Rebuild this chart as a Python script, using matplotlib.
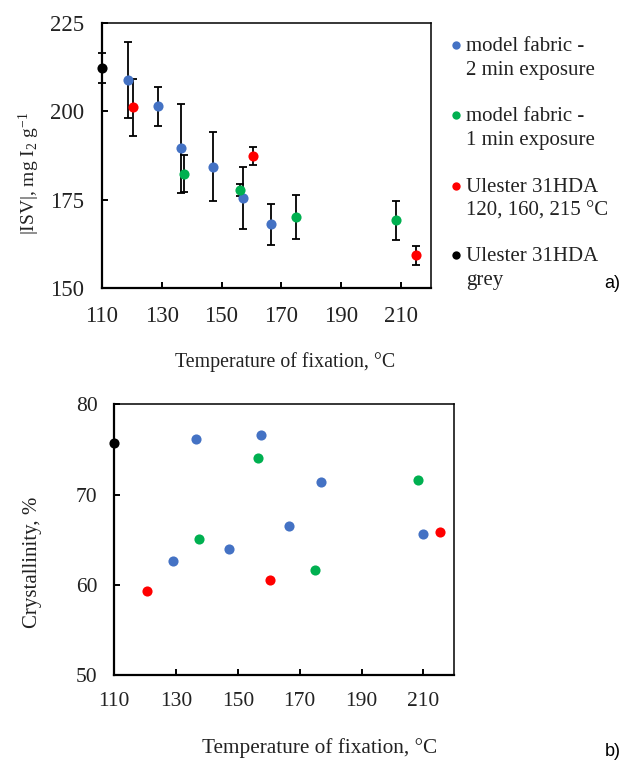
import matplotlib
matplotlib.use("Agg")
import matplotlib.pyplot as plt
from matplotlib.lines import Line2D

plt.rcParams['font.family'] = ['Liberation Serif', 'DejaVu Serif']
plt.rcParams['mathtext.fontset'] = 'custom'
plt.rcParams['mathtext.rm'] = 'Liberation Serif'
plt.rcParams['mathtext.it'] = 'Liberation Serif:italic'

# a) iodine sorption value vs fixation temperature
isv_blue_x = [118.6, 128.8, 136.4, 147.2, 157.3, 166.5]
isv_blue_y = [208.9, 201.4, 189.5, 184.3, 175.5, 168.0]
isv_blue_err = [10.7, 5.5, 12.5, 9.8, 8.8, 5.7]
isv_green_x = [137.3, 156.3, 175.0, 208.4]
isv_green_y = [182.4, 177.7, 170.1, 169.2]
isv_green_err = [5.2, 1.8, 6.1, 5.5]
isv_red_x = [120.5, 160.4, 215.2]
isv_red_y = [201.1, 187.4, 159.2]
isv_red_err = [8.1, 2.6, 2.6]
isv_black_x = [110]
isv_black_y = [212.3]
isv_black_err = [4.3]

# b) crystallinity vs fixation temperature
cr_blue_x = [129.1, 136.5, 147.2, 157.5, 166.4, 176.8, 209.9]
cr_blue_y = [62.6, 76.2, 64.0, 76.6, 66.5, 71.4, 65.6]
cr_green_x = [137.4, 156.4, 175.0, 208.3]
cr_green_y = [65.1, 74.1, 61.7, 71.6]
cr_red_x = [120.7, 160.5, 215.5]
cr_red_y = [59.3, 60.5, 65.9]
cr_black_x = [110]
cr_black_y = [75.7]

labels = [("model fabric -", "2 min exposure"),
          ("model fabric -", "1 min exposure"),
          ("Ulester 31HDA", "120, 160, 215 \u00b0C"),
          ("Ulester 31HDA", "grey")]
colors = ["#4472C4", "#00B050", "#FF0000", "#000000"]
xticks = [110, 130, 150, 170, 190, 210]

W, H = 635, 767
fig = plt.figure(figsize=(W / 100, H / 100), dpi=100)
ax1 = fig.add_axes([102 / W, 1 - 288 / H, 328.7 / W, 265 / H])
ax2 = fig.add_axes([114.3 / W, 1 - 675.3 / H, 340 / W, 271 / H])

ms = 7.3
top_series = [(isv_blue_x, isv_blue_y, isv_blue_err),
              (isv_green_x, isv_green_y, isv_green_err),
              (isv_red_x, isv_red_y, isv_red_err),
              (isv_black_x, isv_black_y, isv_black_err)]
for (x, y, e), c in zip(top_series, colors):
    ax1.errorbar(x, y, yerr=e, fmt='none', ecolor='black', elinewidth=1.3,
                 capsize=3.2, capthick=1.3, zorder=2, clip_on=False)
    ax1.plot(x, y, 'o', color=c, ms=ms, mec='none', zorder=3, clip_on=False)

bot_series = [(cr_blue_x, cr_blue_y), (cr_green_x, cr_green_y),
              (cr_red_x, cr_red_y), (cr_black_x, cr_black_y)]
for (x, y), c in zip(bot_series, colors):
    ax2.plot(x, y, 'o', color=c, ms=ms, mec='none', zorder=3, clip_on=False)

ax1.set_xlim(110, 220)
ax1.set_ylim(150, 225)
ax1.set_yticks([150, 175, 200, 225])
ax2.set_xlim(110, 220)
ax2.set_ylim(50, 80)
ax2.set_yticks([50, 60, 70, 80])

for ax, fs, pad in [(ax1, 16.5, 13), (ax2, 15.5, 12)]:
    ax.set_xticks(xticks)
    ax.tick_params(direction='in', length=4, width=1.4, labelsize=fs, pad=pad,
                   colors='black', labelcolor='#222222')
    for side in ['left', 'bottom']:
        ax.spines[side].set_linewidth(1.6)
    for side in ['top', 'right']:
        ax.spines[side].set_linewidth(1.1)

fig.text(285 / W, 1 - 362 / H, "Temperature of fixation, \u00b0C",
         ha='center', va='center', fontsize=14.3, color='#222222')
fig.text(320 / W, 1 - 748 / H, "Temperature of fixation, \u00b0C",
         ha='center', va='center', fontsize=15.3, color='#222222')
fig.text(29 / W, 1 - 173 / H,
         r"|ISV|, mg I$\mathregular{_2}$ g$\mathregular{^{-1}}$", rotation=90,
         ha='center', va='center', fontsize=14, color='#222222')
fig.text(33 / W, 1 - 562 / H, "Crystallinity, %", rotation=90,
         ha='center', va='center', fontsize=15, color='#222222')

# legend, drawn by hand so the dot sits on the first line of each entry
leg_y = [45, 115, 185.5, 255]
for (l1, l2), c, yc in zip(labels, colors, leg_y):
    fig.add_artist(Line2D([456 / W], [1 - yc / H], transform=fig.transFigure,
                          marker='o', ms=6, color=c, mec='none', ls='none'))
    fig.text(466 / W, 1 - (yc + 6) / H, l1, fontsize=15, va='baseline',
             color='#222222')
    fig.text(466 / W, 1 - (yc + 30.5) / H, l2, fontsize=15, va='baseline',
             color='#222222')

fig.text(612 / W, 1 - 283 / H, "a)", family='Liberation Sans', fontsize=13,
         ha='center', va='center')
fig.text(613 / W, 1 - 752 / H, "b)", family='Liberation Sans', fontsize=13,
         ha='center', va='center')

fig.savefig("out.png", dpi=100)
